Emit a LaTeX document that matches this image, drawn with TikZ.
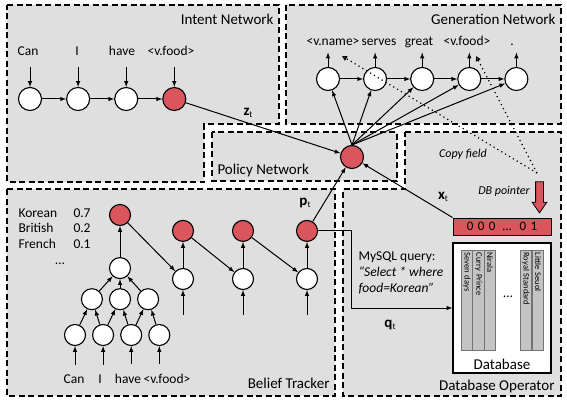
\documentclass[tikz,border=0pt]{standalone}
\usepackage{fontspec}
\setmainfont{Carlito}
\usepackage{tikz}
\usetikzlibrary{positioning}
\usetikzlibrary{arrows.meta}
\usetikzlibrary{shapes.arrows}
\definecolor{boxgray}{RGB}{223,223,223}
\definecolor{nodered}{RGB}{218,86,92}
\definecolor{colgray}{RGB}{196,196,196}
\newlength{\hdist}
\newlength{\hdistshort}
\newlength{\vdist}
\newcommand{\sublab}[1]{\textbf{#1}\raisebox{-2pt}{\fontsize{9}{9}\selectfont t}}
\tikzstyle{var}=[draw, circle, fill=white, minimum size=23pt, line width=1.1pt]
\tikzstyle{act}=[var, fill=nodered]
\tikzstyle{bvar}=[var, minimum size=21pt]
\tikzstyle{bact}=[bvar, fill=nodered]
\tikzstyle{region}=[draw, fill=boxgray, dash pattern=on 6pt off 3.5pt, line width=1.3pt]
\tikzstyle{title}=[font=\fontsize{15}{17}\selectfont, text depth=0pt]
\tikzstyle{word}=[font=\fontsize{13.5}{16}\selectfont, text depth=0pt]
\tikzstyle{note}=[font=\fontsize{12}{14}\selectfont\itshape]
\tikzstyle{sym}=[font=\fontsize{15}{17}\selectfont]
\tikzstyle{copy}=[dash pattern=on 1.2pt off 3.3pt, line width=1.2pt, -{Triangle[open, length=5pt, width=5pt]}]
\tikzstyle{ptr}=[single arrow, draw, fill=nodered, rotate=-90, minimum height=31pt, inner sep=3.5pt, single arrow head extend=3.5pt, single arrow tip angle=70, line width=0.8pt]
\tikzstyle{vecbox}=[draw, fill=nodered, minimum width=98pt, minimum height=17pt, font=\fontsize{13}{15}\selectfont]
\tikzstyle{dbbox}=[draw, fill=white, minimum width=98pt, minimum height=130pt, line width=1.3pt]
\tikzstyle{column}=[draw=black!55, fill=colgray, line width=0.6pt, rotate=-90, minimum width=100pt, minimum height=11.5pt, text width=95pt, inner xsep=2.5pt, inner ysep=1pt, align=left, font=\fontsize{8.5}{9}\selectfont]

\begin{document}
\begin{tikzpicture}[x=1pt, y=-1pt, inner sep=0pt, line width=1pt, -latex]
	\useasboundingbox (0,0) rectangle (567,401);
	
	\setlength{\hdist}{24pt}
	\setlength{\hdistshort}{23pt}
	\setlength{\vdist}{26pt}
	
	% regions
	\draw [region] (7,5) -- (279,5) -- (279,124) -- (204,124) -- (204,182) -- (7,182) -- cycle;
	\draw [region] (286,5) rectangle (561,124);
	\draw [region] (212,132) rectangle (397,181);
	\draw [region] (405,132) -- (561,132) -- (561,396) -- (343,396) -- (343,189) -- (405,189) -- cycle;
	\draw [region] (7,189) rectangle (335,396);
	
	\node (intentlabel) [title, anchor=base east] at (274,25) {Intent Network};
	\node (genlabel) [title, anchor=base east] at (556,25) {Generation Network};
	\node (pollabel) [title, anchor=base west] at (217,174) {Policy Network};
	\node (belieflabel) [title, anchor=base east] at (330,388) {Belief Tracker};
	\node (dboplabel) [title, anchor=base east] at (555,390) {Database Operator};
	
	% intent network
	\node (i1) [var] at (30,99) {};
	\node (i2) [var, right=\hdist of i1] {};
	\node (i3) [var, right=\hdist of i2] {};
	\node (i4) [act, right=\hdist of i3] {};
	\node (wcan) [word, anchor=base] at (28,56) {Can};
	\node (wi) [word, anchor=base] at (77,56) {I};
	\node (whave) [word, anchor=base] at (122,56) {have};
	\node (wfood) [word, anchor=base] at (171,56) {<v.food>};
	\foreach \w/\i in {wcan/i1, wi/i2, whave/i3, wfood/i4}
		\draw [shorten <=11pt] (\i |- \w.south) -- (\i);
	\draw (i1) -- (i2);
	\draw (i2) -- (i3);
	\draw (i3) -- (i4);
	
	% policy network
	\node (pol) [act] at (352,157) {};
	\draw (i4) -- (pol);
	\node (zt) [sym] at (248,113) {\sublab{z}};
	
	% generation network
	\node (g1) [var] at (328,79) {};
	\node (g2) [var, right=\hdistshort of g1] {};
	\node (g3) [var, right=\hdistshort of g2] {};
	\node (g4) [var, right=\hdistshort of g3] {};
	\node (g5) [var, right=\hdistshort of g4] {};
	\node (wname) [word, anchor=base] at (333,46) {<v.name>};
	\node (wserves) [word, anchor=base] at (379,46) {serves};
	\node (wgreat) [word, anchor=base] at (419,46) {great};
	\node (wvfood) [word, anchor=base] at (467,46) {<v.food>};
	\node (wdot) [word, anchor=base] at (512,46) {.};
	\foreach \g/\w in {g1/wname, g2/wserves, g3/wgreat, g4/wvfood, g5/wdot}
		\draw [shorten >=6pt] (\g) -- (\g |- \w.south);
	\draw (g1) -- (g2);
	\draw (g2) -- (g3);
	\draw (g3) -- (g4);
	\draw (g4) -- (g5);
	\foreach \g in {g1, g2, g3, g4, g5}
		\draw (pol.north) -- (\g);
	
	% copy field and db pointer
	\coordinate (cfstart) at (537,173);
	\coordinate (cftip1) at (342,56);
	\coordinate (cftip2) at (476,56);
	\draw [copy] (cfstart) -- (cftip1);
	\draw [copy] (cfstart) -- (cftip2);
	\node (cflabel) [note] at (463,154) {Copy field};
	\node (dbplabel) [note] at (504,191) {DB pointer};
	\node (dbptr) [ptr] at (539.5,194.5) {};
	\node (vec) [vecbox] at (502,226.5) {0\hspace{4.5pt}0\hspace{4.5pt}0\hspace{7pt}…\hspace{8pt}0\hspace{4.5pt}1};
	\draw (vec.north west) -- (pol);
	\node (xt) [sym] at (443,197) {\sublab{x}};
	
	% database
	\node (db) [dbbox] at (502,308) {};
	\foreach \x/\name [count=\c] in {467/Seven days, 478.5/Curry Prince, 490/Nirala, 526/Royal Standard, 538/Little Seuol}
		\node (col\c) [column] at (\x,300) {\name};
	\node (dbdots) [word] at (508,297) {…};
	\node (dbname) [title] at (502,364) {Database};
	
	% belief tracker
	\foreach \name/\val [count=\i] in {Korean/0.7, British/0.2, French/0.1} {
		\node (bn\i) [word, anchor=base west] at (18,{201.5+15.5*\i}) {\name};
		\node (bp\i) [word, anchor=base west] at (73,{201.5+15.5*\i}) {\val};
	}
	\node (bdots) [word, anchor=base] at (60,264) {…};
	
	\node (b0) [bact] at (120,215) {};
	\node (bw0) [bvar, below=31pt of b0] {};
	\node (m2) [bvar, below=9pt of bw0] {};
	\node (m1) [bvar, left=6pt of m2] {};
	\node (m3) [bvar, right=6pt of m2] {};
	\node (l1) [bvar] at (75,335) {};
	\node (l2) [bvar, right=6pt of l1] {};
	\node (l3) [bvar, right=6pt of l2] {};
	\node (l4) [bvar, right=6pt of l3] {};
	\node (bcan) [word, anchor=base] at (74,383) {Can};
	\node (bi) [word, anchor=base] at (100,383) {I};
	\node (bhave) [word, anchor=base] at (128,383) {have};
	\node (bfood) [word, anchor=base] at (167,383) {<v.food>};
	\foreach \w/\l in {bcan/l1, bi/l2, bhave/l3, bfood/l4}
		\draw [shorten <=9pt] (\l |- \w.north) -- (\l);
	\draw (l1) -- (m1);
	\draw (l2) -- (m1);
	\draw (l2) -- (m2);
	\draw (l3) -- (m2);
	\draw (l3) -- (m3);
	\draw (l4) -- (m3);
	\draw (m1) -- (bw0);
	\draw (m2) -- (bw0);
	\draw (m3) -- (bw0);
	\draw (bw0) -- (b0);
	
	\node (bw2) [bvar] at (183,279) {};
	\node (bw3) [bvar] at (243,279) {};
	\node (bw4) [bvar] at (307,279) {};
	\node (br2) [bact, above=\vdist of bw2] {};
	\node (br3) [bact, above=\vdist of bw3] {};
	\node (br4) [bact, above=\vdist of bw4] {};
	\coordinate (bin2) at (183,315);
	\coordinate (bin3) at (243,315);
	\coordinate (bin4) at (307,315);
	\foreach \b in {2,3,4} {
		\draw (bin\b) -- (bw\b);
		\draw (bw\b) -- (br\b);
	}
	\draw (b0) -- (bw2);
	\draw (br2) -- (bw3);
	\draw (br3) -- (bw4);
	\draw (br4) -- (pol);
	\node (pt) [sym] at (305,203) {\sublab{p}};
	
	% query
	\coordinate (qbend) at (351,308);
	\draw (br4.east) -| (qbend) -- (qbend -| db.west);
	\node (qt) [sym] at (390,325) {\sublab{q}};
	\node (query) [word, anchor=north west, align=left] at (358,251) {MySQL query:\\\textit{“Select * where}\\\textit{food=Korean”}};
\end{tikzpicture}
\end{document}
